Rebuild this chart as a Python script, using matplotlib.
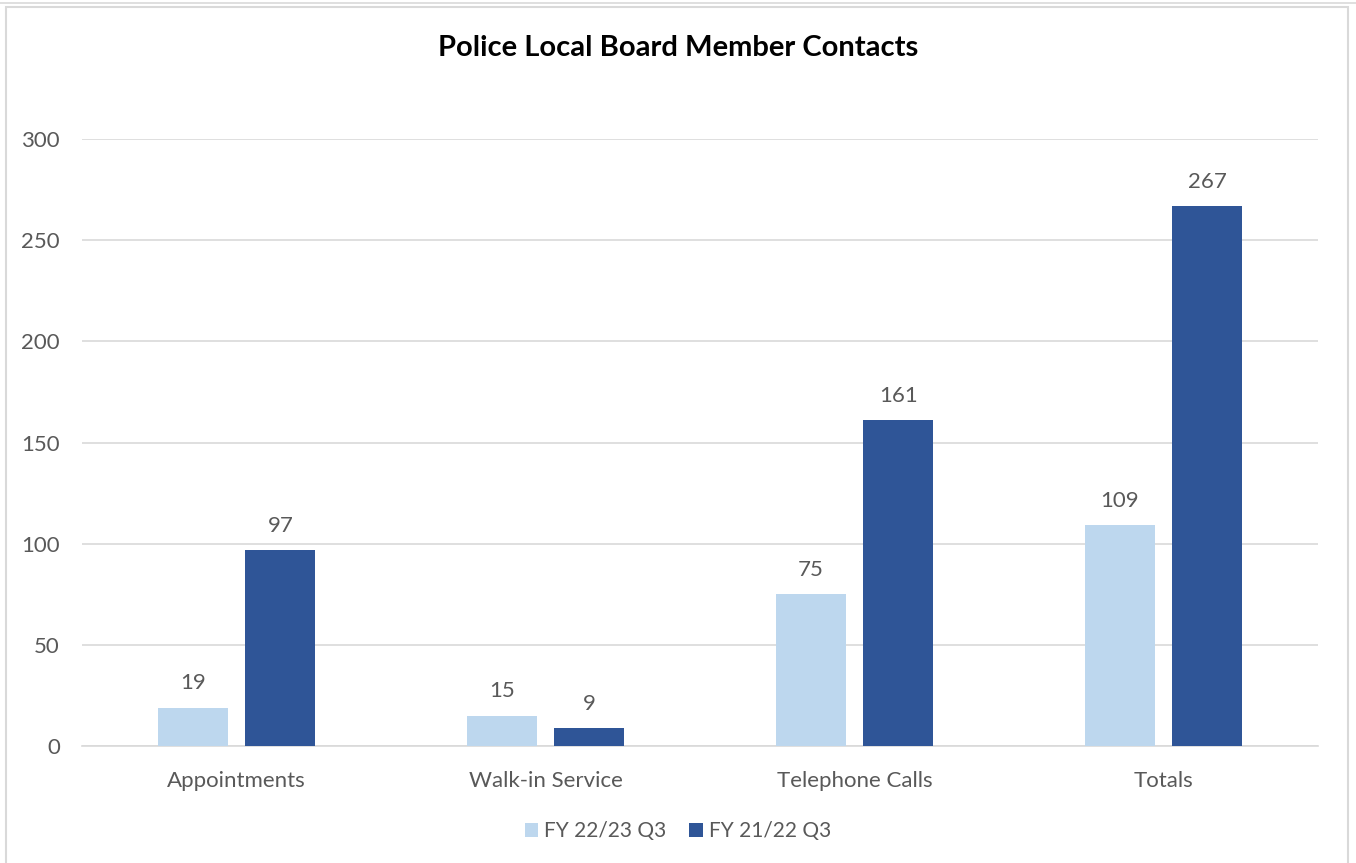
import matplotlib
matplotlib.use("Agg")
import matplotlib.pyplot as plt
import numpy as np
from matplotlib.patches import Rectangle

categories = ["Appointments", "Walk-in Service", "Telephone Calls", "Totals"]
fy2223_q3 = [19, 15, 75, 109]
fy2122_q3 = [97, 9, 161, 267]
series_names = ["FY 22/23 Q3", "FY 21/22 Q3"]
yticks = [0, 50, 100, 150, 200, 250, 300]

plt.rcParams["font.family"] = ["Lato", "DejaVu Sans"]
text_color = "#595959"

fig = plt.figure(figsize=(13.56, 8.63), dpi=100)
ax = fig.add_axes([82 / 1356, 1 - 746 / 863, 1236 / 1356, 607 / 863])

x = np.arange(len(categories))
w = 0.227
off = 0.142
b1 = ax.bar(x - off, fy2223_q3, w, color="#BDD7EE", label=series_names[0], zorder=3)
b2 = ax.bar(x + off, fy2122_q3, w, color="#2F5597", label=series_names[1], zorder=3)

for bars in (b1, b2):
    for r in bars:
        ax.text(r.get_x() + r.get_width() / 2, r.get_height() + 7, f"{int(r.get_height())}",
                ha="center", va="bottom", fontsize=16, color=text_color)

ax.set_xlim(-0.5, len(categories) - 0.5)
ax.set_ylim(0, 300)
ax.set_yticks(yticks)
ax.set_yticklabels([str(v) for v in yticks], fontsize=16, color=text_color)
ax.set_xticks(x)
ax.set_xticklabels(categories, fontsize=16, color=text_color)
ax.tick_params(axis="both", length=0)
ax.tick_params(axis="y", pad=16)
ax.tick_params(axis="x", pad=18)
ax.grid(axis="y", color="#D9D9D9", linewidth=1.2, zorder=0)
for s in ["top", "right", "left"]:
    ax.spines[s].set_visible(False)
ax.spines["bottom"].set_color("#D9D9D9")
ax.spines["bottom"].set_linewidth(1.2)

fig.text(0.5, 1 - 48 / 863, "Police Local Board Member Contacts", ha="center", va="center",
         fontsize=21, fontweight="bold", color="black")

fig.legend(handles=[b1, b2], loc="center", bbox_to_anchor=(0.5, 1 - 831 / 863), ncol=2,
           frameon=False, fontsize=15, labelcolor=text_color, handlelength=0.65,
           handleheight=0.65, handletextpad=0.3, columnspacing=1.1)

# chart frame
fig.patches.append(Rectangle((6 / 1356, -0.01), 1342 / 1356, 1 - 7 / 863 + 0.01,
                             transform=fig.transFigure, fill=False, edgecolor="#D9D9D9",
                             linewidth=1.5))
fig.patches.append(Rectangle((-0.01, 1 - 3 / 863), 1.02, 0.02, transform=fig.transFigure,
                             fill=False, edgecolor="#D9D9D9", linewidth=1.2))

fig.savefig("out.png", dpi=100)
